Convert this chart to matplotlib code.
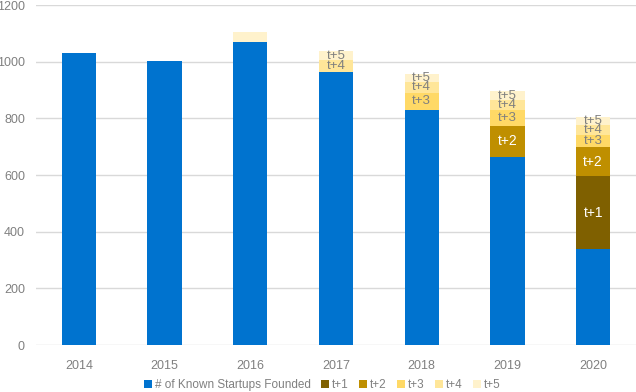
import numpy as np
import matplotlib.pyplot as plt

plt.rcParams['font.family'] = ['Liberation Sans', 'DejaVu Sans']

years = ['2014', '2015', '2016', '2017', '2018', '2019', '2020']
known = [1032, 1002, 1070, 964, 830, 663, 339]
t1 = [0, 0, 0, 0, 0, 0, 257]
t2 = [0, 0, 0, 0, 0, 111, 102]
t3 = [0, 0, 0, 0, 61, 56, 44]
t4 = [0, 0, 0, 41, 38, 33, 33]
t5 = [0, 0, 36, 33, 29, 32, 28]

series = [
    ('# of Known Startups Founded', known, '#0073CF', None),
    ('t+1', t1, '#7F6000', 'white'),
    ('t+2', t2, '#BF8F00', 'white'),
    ('t+3', t3, '#FFD966', '#7F7F7F'),
    ('t+4', t4, '#FFE699', '#7F7F7F'),
    ('t+5', t5, '#FFF2CC', '#7F7F7F'),
]

fig = plt.figure(figsize=(6.36, 3.92), dpi=100)
ax = fig.add_axes([36 / 636, 47 / 392, 600 / 636, 340 / 392])

x = np.arange(len(years))
bottom = np.zeros(len(years))
for name, vals, col, tcol in series:
    vals = np.array(vals, dtype=float)
    ax.bar(x, vals, 0.4, bottom=bottom, color=col, label=name, zorder=3)
    if tcol is not None:
        for i, v in enumerate(vals):
            # the 2016 sliver carries no label in the original
            if v > 0 and i >= 3:
                fs = 10 if v > 80 else 9.5
                ax.text(x[i], bottom[i] + v / 2, name, ha='center', va='center',
                        color=tcol, fontsize=fs, zorder=4)
    bottom += vals

ax.set_xlim(-0.5, len(years) - 0.5)
ax.set_ylim(0, 1200)
ax.set_yticks(range(0, 1201, 200))
ax.set_xticks(x)
ax.set_xticklabels(years)
ax.grid(axis='y', color='#D9D9D9', linewidth=1, zorder=0)
for s in ax.spines.values():
    s.set_visible(False)
ax.tick_params(axis='both', length=0, labelsize=9, colors='#808080')
ax.tick_params(axis='x', pad=11)
ax.tick_params(axis='y', pad=8)

ax.legend(loc='center', bbox_to_anchor=(0.477, -0.118), ncol=6, frameon=False,
          fontsize=8.5, labelcolor='#808080', handlelength=0.65, handleheight=0.65,
          handletextpad=0.25, columnspacing=0.9)

fig.savefig('out.png', dpi=100)
